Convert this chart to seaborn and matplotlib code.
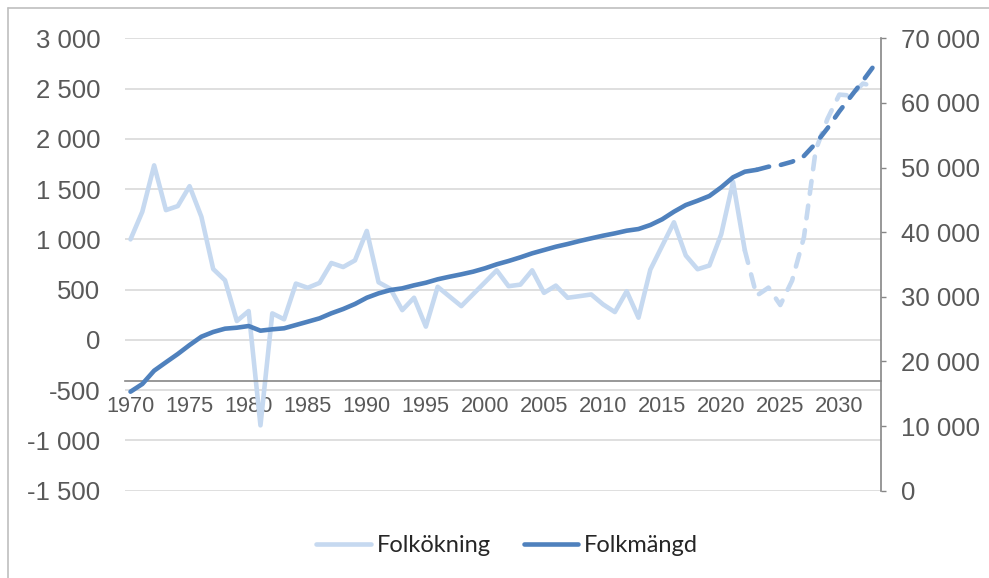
import numpy as np
import pandas as pd
import matplotlib
matplotlib.use("Agg")
import matplotlib.pyplot as plt
import seaborn as sns
from matplotlib.ticker import FuncFormatter, MultipleLocator
from matplotlib.lines import Line2D

# Data
years = list(range(1970, 2034))
folkokning = [1000, 1275, 1736, 1291, 1331, 1529, 1225, 705, 593, 188,
              287, -850, 264, 205, 560, 518, 567, 765, 725, 791,
              1084, 573, 508, 296, 419, 132, 528, 432, 336, 455,
              573, 692, 534, 550, 692, 468, 540, 419, 435, 452,
              353, 277, 484, 221, 699, 935, 1170, 840, 703, 740,
              1050, 1572, 890, 440, 520, 347, 590, 1020, 1890, 2200,
              2440, 2430, 2550, 2520]
folkmangd = [15320, 16510, 18570, 19870, 21150, 22540, 23830, 24560, 25070, 25220,
             25480, 24760, 24970, 25130, 25640, 26150, 26670, 27450, 28110, 28890,
             29860, 30540, 31050, 31310, 31780, 32180, 32710, 33110, 33480, 33890,
             34410, 35030, 35540, 36110, 36730, 37240, 37750, 38170, 38630, 39050,
             39460, 39820, 40230, 40490, 41110, 41990, 43170, 44200, 44870, 45600,
             46940, 48490, 49360, 49650, 50130, 50390, 50900, 51790, 53750, 56090,
             58700, 61070, 63440, 65920]
last_outcome_okning = 2022   # prognosis (dashed) after this year
last_outcome_mangd = 2023
xtick_years = list(range(1970, 2031, 5))

df = pd.DataFrame({"year": years, "Folkökning": folkokning, "Folkmängd": folkmangd})

sns.set_style("white")
plt.rcParams["font.family"] = ["Liberation Sans", "DejaVu Sans"]

LIGHT = "#c6d9f0"
DARK = "#4f81bd"
GRID = "#d9d9d9"
AXIS = "#868686"
TEXT = "#595959"
LW = 3.3
DASH = (0, (2.8, 2.6))

W, H = 989, 578
fig = plt.figure(figsize=(W / 100, H / 100), dpi=100)
left, right, top, bottom = 124.6, 880.7, 38.3, 490.7
ax = fig.add_axes([left / W, 1 - bottom / H, (right - left) / W, (bottom - top) / H])
ax2 = ax.twinx()

def space_thousands(v, pos):
    return f"{int(round(v)):,}".replace(",", " ")

# Folkökning on the left axis
sns.lineplot(data=df[df.year <= last_outcome_okning], x="year", y="Folkökning", ax=ax,
             color=LIGHT, lw=LW, solid_capstyle="round", errorbar=None, legend=False)
sns.lineplot(data=df[df.year >= last_outcome_okning], x="year", y="Folkökning", ax=ax,
             color=LIGHT, lw=LW, linestyle=DASH, dash_capstyle="round", errorbar=None, legend=False)

# Folkmängd on the right axis
sns.lineplot(data=df[df.year <= last_outcome_mangd], x="year", y="Folkmängd", ax=ax2,
             color=DARK, lw=LW, solid_capstyle="round", errorbar=None, legend=False)
sns.lineplot(data=df[df.year >= last_outcome_mangd], x="year", y="Folkmängd", ax=ax2,
             color=DARK, lw=LW, linestyle=DASH, dash_capstyle="round", errorbar=None, legend=False)

ax.set_xlim(1969.5, 2033.5)
ax.set_ylim(-1500, 3000)
ax2.set_ylim(0, 70000)
ax.yaxis.set_major_locator(MultipleLocator(500))
ax2.yaxis.set_major_locator(MultipleLocator(10000))
ax.yaxis.set_major_formatter(FuncFormatter(space_thousands))
ax2.yaxis.set_major_formatter(FuncFormatter(space_thousands))
ax.set_xticks(xtick_years)
ax.set_xticklabels([str(y) for y in xtick_years])

for a in (ax, ax2):
    a.set_xlabel("")
    a.set_ylabel("")
    for s in a.spines.values():
        s.set_visible(False)

ax.yaxis.grid(True, color=GRID, lw=1.2)
ax.set_axisbelow(True)

# horizontal axis crosses the left axis a bit above -500
ax.spines["bottom"].set_visible(True)
ax.spines["bottom"].set_position(("data", -405))
ax.spines["bottom"].set_color(AXIS)
ax.spines["bottom"].set_linewidth(1.2)
ax.tick_params(axis="x", length=0, pad=11, labelsize=15.7, labelcolor=TEXT)
ax.tick_params(axis="y", length=0, pad=17.5, labelsize=18.5, labelcolor=TEXT)

ax2.spines["right"].set_visible(True)
ax2.spines["right"].set_color(AXIS)
ax2.spines["right"].set_linewidth(1.2)
ax2.tick_params(axis="y", direction="out", length=3.3, width=1.0, color=AXIS,
                pad=11.5, labelsize=18.5, labelcolor=TEXT)

handles = [Line2D([], [], color=LIGHT, lw=LW, solid_capstyle="round"),
           Line2D([], [], color=DARK, lw=LW, solid_capstyle="round")]
fig.legend(handles, ["Folkökning", "Folkmängd"], loc="center",
           bbox_to_anchor=(507 / W, 1 - 546 / H), ncol=2, frameon=False,
           prop={"family": ["Lato", "DejaVu Sans"], "size": 17},
           handlelength=2.3, handletextpad=0.25, columnspacing=1.4)

# chart area border (only left and top edges show in the reference)
fig.add_artist(Line2D([8 / W, 8 / W], [0, 1 - 8 / H], transform=fig.transFigure,
                      color="#bfbfbf", lw=1.2))
fig.add_artist(Line2D([8 / W, 1], [1 - 8 / H, 1 - 8 / H], transform=fig.transFigure,
                      color="#bfbfbf", lw=1.2))

fig.savefig("out.png", dpi=100)
